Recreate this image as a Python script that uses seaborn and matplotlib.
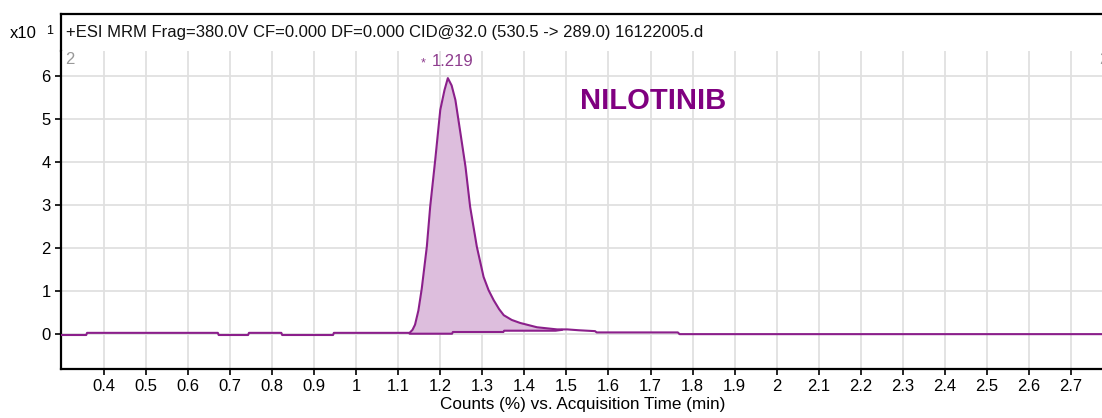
import numpy as np
import pandas as pd
import matplotlib
matplotlib.use("Agg")
import matplotlib.pyplot as plt
import seaborn as sns

# ---- data (counts in units of x10^1) ----
time_min = [0.298, 0.358, 0.360, 0.671, 0.673, 0.743, 0.745, 0.822, 0.824, 0.945, 0.947,
            1.100, 1.127, 1.134, 1.140, 1.148, 1.156, 1.168, 1.176, 1.188, 1.200, 1.210, 1.218,
            1.227, 1.236, 1.248, 1.260, 1.271, 1.287, 1.303, 1.315, 1.327, 1.340, 1.351, 1.370,
            1.390, 1.430, 1.478, 1.502, 1.530, 1.568, 1.572, 1.765, 1.769, 2.779]
counts = [-0.02, -0.02, 0.03, 0.03, -0.02, -0.02, 0.03, 0.03, -0.02, -0.02, 0.03,
          0.03, 0.03, 0.10, 0.22, 0.55, 1.06, 2.03, 2.96, 4.05, 5.21, 5.67, 5.95,
          5.78, 5.44, 4.67, 3.89, 2.96, 2.03, 1.33, 1.02, 0.79, 0.58, 0.44, 0.33,
          0.26, 0.16, 0.11, 0.11, 0.09, 0.07, 0.04, 0.04, 0.00, 0.00]
baseline_time = [1.127, 1.228, 1.230, 1.350, 1.352, 1.474, 1.490]
baseline_counts = [0.01, 0.01, 0.05, 0.05, 0.08, 0.08, 0.10]
x_ticks = [0.4, 0.5, 0.6, 0.7, 0.8, 0.9, 1.0, 1.1, 1.2, 1.3, 1.4, 1.5, 1.6, 1.7, 1.8,
           1.9, 2.0, 2.1, 2.2, 2.3, 2.4, 2.5, 2.6, 2.7]
x_tick_labels = ["0.4", "0.5", "0.6", "0.7", "0.8", "0.9", "1", "1.1", "1.2", "1.3", "1.4",
                 "1.5", "1.6", "1.7", "1.8", "1.9", "2", "2.1", "2.2", "2.3", "2.4", "2.5",
                 "2.6", "2.7"]
y_ticks = [0, 1, 2, 3, 4, 5, 6]
peak_label = "1.219"
peak_time = 1.218
peak_height = 5.95
compound = "NILOTINIB"
header = "+ESI MRM Frag=380.0V CF=0.000 DF=0.000 CID@32.0 (530.5 -> 289.0) 16122005.d"
x_label = "Counts (%) vs. Acquisition Time (min)"

sns.set_style("white")
plt.rcParams["font.family"] = ["Liberation Sans", "DejaVu Sans"]

LINE = "#8B1F8B"
FILL = "#DDBEDD"
FS = 12

W, H = 1102, 418
fig = plt.figure(figsize=(W / 100, H / 100), dpi=100)

left = 61 / W
hax = fig.add_axes([left, (H - 51) / H, 1 - left + 0.002, (51 - 14) / H])
ax = fig.add_axes([left, (H - 369) / H, 1 - left + 0.002, (369 - 51) / H])
hax.patch.set_alpha(0)

df = pd.DataFrame({"t": time_min, "c": counts})
sns.lineplot(data=df, x="t", y="c", ax=ax, color=LINE, linewidth=1.5, zorder=3)

# shaded integrated peak
tt = np.linspace(baseline_time[0], baseline_time[-1], 400)
curve = np.interp(tt, time_min, counts)
base = np.interp(tt, baseline_time, baseline_counts)
ax.fill_between(tt, base, curve, where=curve >= base, color=FILL, linewidth=0, zorder=2)
bdf = pd.DataFrame({"t": baseline_time, "c": baseline_counts})
sns.lineplot(data=bdf, x="t", y="c", ax=ax, color=LINE, linewidth=1.5, zorder=3)

ax.set_xlim(0.298, 2.779)
ax.set_ylim(-0.81, 6.58)
ax.set_xticks(x_ticks)
ax.set_xticklabels(x_tick_labels)
ax.set_yticks(y_ticks)
ax.set_yticklabels([str(v) for v in y_ticks])
ax.grid(True, color="#E0E0E0", linewidth=1.3, zorder=0)
ax.set_axisbelow(True)
for s in ["top", "right"]:
    ax.spines[s].set_visible(False)
for s in ["left", "bottom"]:
    ax.spines[s].set_color("black")
    ax.spines[s].set_linewidth(1.6)
ax.tick_params(axis="both", direction="out", length=4.5, width=1.2, color="black",
               labelsize=FS, labelcolor="black", pad=3,
               left=True, bottom=True)
ax.set_xlabel(x_label, fontsize=FS + 0.3, labelpad=2, color="black")
ax.set_ylabel("")

# annotations
ax.text(peak_time + 0.011, peak_height + 0.22, peak_label, color="#8E3D8E", fontsize=FS,
        ha="center", va="bottom", zorder=4)
ax.text(peak_time - 0.058, peak_height + 0.33, "*", color="#8E3D8E", fontsize=9,
        ha="center", va="center", zorder=4)
ax.text(1.707, 5.42, compound, color="#800080", fontsize=21, fontweight="bold",
        ha="center", va="center", zorder=4)
ax.text(0.307, 6.55, "2", color="#999999", fontsize=FS, ha="left", va="top")
ax.text(2.768, 6.55, "2", color="#999999", fontsize=FS, ha="left", va="top", clip_on=False)

# header band
hax.set_xticks([])
hax.set_yticks([])
hax.set_xlim(0, 1)
hax.set_ylim(0, 1)
for s in ["bottom", "right"]:
    hax.spines[s].set_visible(False)
for s in ["top", "left"]:
    hax.spines[s].set_color("black")
    hax.spines[s].set_linewidth(1.6)
hax.text(5 / (W - 61), 0.5, header, fontsize=FS, color="#111111", ha="left", va="center",
         transform=hax.transAxes)
fig.text(10 / W, 1 - 34 / H, "x10", fontsize=FS, color="black", ha="left", va="center")
fig.text(46 / W, 1 - 31 / H, "1", fontsize=9, color="black", ha="left", va="center")

fig.savefig("out.png", dpi=100)
